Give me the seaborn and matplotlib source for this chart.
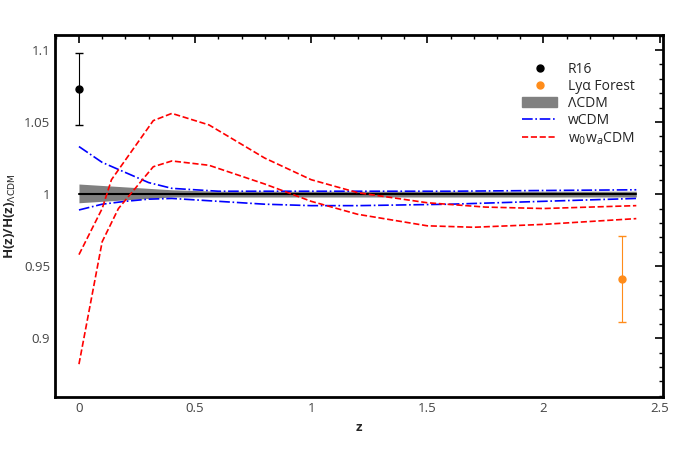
import numpy as np
import matplotlib
matplotlib.use("Agg")
import matplotlib.pyplot as plt
import seaborn as sns
from matplotlib.ticker import MultipleLocator
from matplotlib.lines import Line2D
from matplotlib.patches import Patch

sns.set_theme(style="white", font="Open Sans")

# --- data ---
lcdm_z = [0, 0.1, 0.2, 0.3, 0.4, 0.6, 1.0, 1.5, 2.0, 2.4]
lcdm_hi = [1.007, 1.006, 1.005, 1.004, 1.003, 1.002, 1.002, 1.002, 1.002, 1.002]
lcdm_lo = [0.994, 0.995, 0.996, 0.997, 0.998, 0.998, 0.998, 0.998, 0.998, 0.998]

w_z = [0, 0.1, 0.2, 0.3, 0.4, 0.6, 0.8, 1.0, 1.2, 1.6, 2.0, 2.4]
w_hi = [1.033, 1.022, 1.015, 1.008, 1.004, 1.002, 1.002, 1.002, 1.002, 1.002, 1.0025, 1.003]
w_lo = [0.989, 0.993, 0.995, 0.9965, 0.997, 0.995, 0.993, 0.992, 0.992, 0.993, 0.995, 0.997]

w0wa_z_hi = [0, 0.1, 0.14, 0.32, 0.4, 0.56, 0.8, 1.0, 1.2, 1.5, 1.75, 2.0, 2.4]
w0wa_hi = [0.958, 0.99, 1.01, 1.051, 1.056, 1.048, 1.025, 1.01, 1.001, 0.994, 0.991, 0.990, 0.992]
w0wa_z_lo = [0, 0.1, 0.17, 0.32, 0.4, 0.56, 0.8, 1.0, 1.2, 1.5, 1.7, 2.0, 2.4]
w0wa_lo = [0.882, 0.967, 0.99, 1.019, 1.023, 1.020, 1.007, 0.995, 0.986, 0.978, 0.977, 0.979, 0.983]

r16_z, r16_h, r16_err = [0.0], [1.073], [0.025]
lya_z, lya_h, lya_err = [2.34], [0.941], [0.030]

fig, ax = plt.subplots(figsize=(6.88, 4.73), dpi=100)
fig.subplots_adjust(left=0.08, right=0.963, top=0.926, bottom=0.16)

ax.errorbar(r16_z, r16_h, yerr=r16_err, fmt="o", color="black", ms=5, capsize=3, lw=0.8)
ax.errorbar(lya_z, lya_h, yerr=lya_err, fmt="o", color="#ff8c1a", ms=5, capsize=3, lw=0.8)
ax.fill_between(lcdm_z, lcdm_lo, lcdm_hi, color="gray", lw=0)
sns.lineplot(x=[0, 2.4], y=[1, 1], color="black", lw=1.5, ax=ax)
sns.lineplot(x=w_z, y=w_hi, color="blue", ls="-.", lw=1.2, ax=ax)
sns.lineplot(x=w_z, y=w_lo, color="blue", ls="-.", lw=1.2, ax=ax)
sns.lineplot(x=w0wa_z_hi, y=w0wa_hi, color="red", ls="--", lw=1.2, ax=ax)
sns.lineplot(x=w0wa_z_lo, y=w0wa_lo, color="red", ls="--", lw=1.2, ax=ax)

ax.set_xlim(-0.103, 2.513)
ax.set_ylim(0.859, 1.1104)
ax.xaxis.set_minor_locator(MultipleLocator(0.1))
ax.yaxis.set_minor_locator(MultipleLocator(0.01))
ax.set_yticks([0.9, 0.95, 1.0, 1.05, 1.1])
ax.set_yticklabels(["0.9", "0.95", "1", "1.05", "1.1"])
ax.set_xticks([0, 0.5, 1, 1.5, 2, 2.5])
ax.set_xticklabels(["0", "0.5", "1", "1.5", "2", "2.5"])
ax.tick_params(which="both", direction="in", top=True, right=True, labelsize=9.5, colors="black")
ax.tick_params(which="major", length=6, width=1.2)
ax.tick_params(which="minor", length=3, width=1)
for s in ax.spines.values():
    s.set_linewidth(2)
    s.set_color("black")
for lab in ax.get_xticklabels() + ax.get_yticklabels():
    lab.set_color("#444444")

ax.set_xlabel("z", fontsize=9.5, fontweight="bold")
ax.set_ylabel(r"H(z)/H(z)$_{\Lambda\mathrm{CDM}}$", fontsize=9.5, fontweight="bold")

handles = [
    Line2D([], [], marker="o", ls="none", color="black", ms=5),
    Line2D([], [], marker="o", ls="none", color="#ff8c1a", ms=5),
    Patch(color="gray"),
    Line2D([], [], color="blue", ls="-.", lw=1.2),
    Line2D([], [], color="red", ls="--", lw=1.2),
]
labels = ["R16", "Lyα Forest", "ΛCDM", "wCDM", "w$_0$w$_a$CDM"]
ax.legend(handles, labels, loc="upper right", frameon=False, fontsize=10,
          bbox_to_anchor=(0.975, 0.96), handlelength=2.5, labelspacing=0.15)

fig.savefig("out.png")
